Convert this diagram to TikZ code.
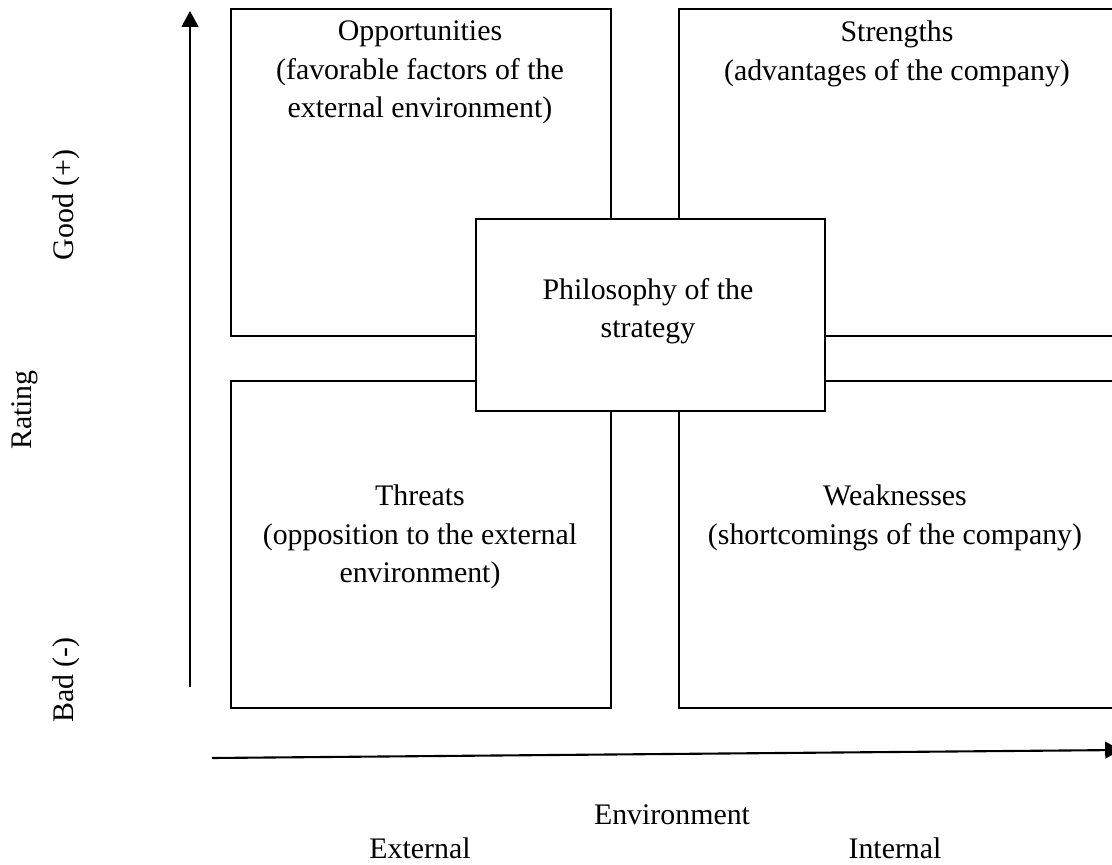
\documentclass[tikz,border=0pt]{standalone}
\usepackage{fontspec}
\setmainfont{Liberation Serif}
\usepackage{tikz}
\usetikzlibrary{arrows.meta,positioning}

\begin{document}
\begin{tikzpicture}[
  x=0.02cm, y=-0.02cm,
  quadbox/.style={draw, line width=1.2pt, inner sep=0pt},
  ctrbox/.style={draw, line width=1.2pt, fill=white, inner sep=0pt},
  lbl/.style={font=\fontsize{17pt}{21.9pt}\selectfont, align=center},
  axis/.style={-{Triangle[length=9pt,width=9.5pt]}, line width=1.2pt},
]
  \useasboundingbox (0,0) rectangle (1112,865);
  \clip (0,0) rectangle (1112,865);

  % quadrants
  \node[quadbox, minimum width=380*0.02cm, minimum height=327*0.02cm,
        anchor=north west] (opp) at (230,8) {};
  \node[quadbox, minimum width=450*0.02cm, minimum height=327*0.02cm,
        anchor=north west] (str) at (678,8) {};
  \node[quadbox, minimum width=380*0.02cm, minimum height=327*0.02cm,
        anchor=north west] (thr) at (230,380) {};
  \node[quadbox, minimum width=450*0.02cm, minimum height=327*0.02cm,
        anchor=north west] (wea) at (678,380) {};
  \node[ctrbox, minimum width=349*0.02cm, minimum height=192*0.02cm,
        anchor=north west] (phil) at (475,218) {};

  \node[lbl, anchor=north] at (420,15)
    {Opportunities\\(favorable factors of the\\external environment)};
  \node[lbl, anchor=north] at (897,15)
    {Strengths\\(advantages of the company)};
  \node[lbl] at (648,311) {Philosophy of the\\strategy};
  \node[lbl] at (420,537)
    {Threats\\(opposition to the external\\environment)};
  \node[lbl] at (895,518)
    {Weaknesses\\(shortcomings of the company)};

  % axes
  \coordinate (ybot) at (190,687);
  \coordinate (ytop) at (190,11);
  \coordinate (xleft) at (212,758);
  \coordinate (xright) at (1121,750);
  \draw[axis] (ybot) -- (ytop);
  \draw[axis] (xleft) -- (xright);

  \node[lbl, rotate=90] (good) at (66,205) {Good (+)};
  \node[lbl, rotate=90] (rating) at (25,410) {Rating};
  \node[lbl, rotate=90] (bad) at (66,680) {Bad (-)};

  \node[lbl] (env) at (672,815) {Environment};
  \node[lbl] (ext) at (420,848) {External};
  \node[lbl] (int) at (895,848) {Internal};
\end{tikzpicture}
\end{document}
